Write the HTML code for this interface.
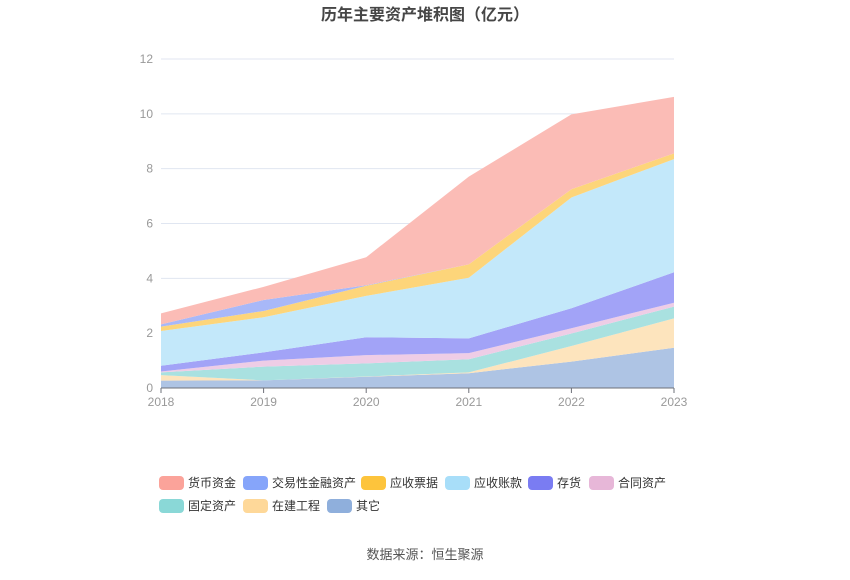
<!DOCTYPE html>
<html><head><meta charset="utf-8"><style>
body{margin:0;background:#fff;}
svg text{font-family:"Liberation Sans","Noto Sans CJK SC",sans-serif;}
</style></head><body>
<svg width="850" height="575">
<text x="425" y="20" text-anchor="middle" font-size="16" font-weight="bold" fill="#464646">历年主要资产堆积图（亿元）</text>
<g id="grid"></g><g id="areas"></g><g id="axes"></g><g id="legend"></g>
<text x="425" y="559" text-anchor="middle" font-size="13" fill="#555">数据来源：恒生聚源</text>
</svg>
<script>
const years=['2018','2019','2020','2021','2022','2023'];
const yTicks=[0,2,4,6,8,10,12];
const seriesNames=['其它','在建工程','固定资产','合同资产','存货','应收账款','应收票据','交易性金融资产','货币资金'];
const qita=[0.27,0.28,0.41,0.54,0.96,1.47];
const zaijian=[0.20,0,0.01,0.03,0.57,1.07];
const guding=[0.10,0.50,0.48,0.48,0.46,0.43];
const hetong=[0.03,0.22,0.30,0.22,0.19,0.14];
const cunhuo=[0.21,0.30,0.65,0.54,0.73,1.11];
const zhangkuan=[1.27,1.28,1.51,2.21,4.04,4.13];
const piaoju=[0.16,0.23,0.37,0.49,0.30,0.21];
const jiaoyi=[0.08,0.40,0.02,0,0,0];
const huobi=[0.40,0.48,1.02,3.20,2.73,2.06];
const seriesData=[qita,zaijian,guding,hetong,cunhuo,zhangkuan,piaoju,jiaoyi,huobi];
const fills=['#aec4e4','#fde4bd','#a9e1e0','#eecde6','#a2a3f7','#c3e8fa','#fdd57a','#a8b8f8','#fbbcb6'];
const legColors={'货币资金':'#fba39a','交易性金融资产':'#86a5fa','应收票据':'#fdc43c','应收账款':'#a8def9','存货':'#7a7cf2','合同资产':'#e7b7d8','固定资产':'#8ad8d7','在建工程':'#fed899','其它':'#8fafdc'};
const legOrder=['货币资金','交易性金融资产','应收票据','应收账款','存货','合同资产','固定资产','在建工程','其它'];
const NS='http://www.w3.org/2000/svg';
const x0=161,x1=674,y0=388,y12=59;
const xs=i=>x0+(x1-x0)*i/(years.length-1);
const ys=v=>y0-(y0-y12)*v/12;
function mk(t,a,p){const e=document.createElementNS(NS,t);for(const k in a)e.setAttribute(k,a[k]);p.appendChild(e);return e;}
const grid=document.getElementById('grid'),axes=document.getElementById('axes'),areas=document.getElementById('areas'),legend=document.getElementById('legend');
yTicks.forEach(v=>{
 if(v>0){const l=mk('line',{x1:x0,x2:x1,y1:ys(v),y2:ys(v),stroke:'#e0e6f1'},grid);
 
 }
 const t=mk('text',{x:x0-8,y:ys(v)+4,'text-anchor':'end','font-size':12,fill:'#999'},axes);t.textContent=v;
 
 
});
let base=years.map(()=>0);
seriesData.forEach((s,si)=>{
 const top=base.map((b,i)=>b+s[i]);
 let d='M'+years.map((_,i)=>xs(i)+','+ys(top[i])).join('L');
 for(let i=years.length-1;i>=0;i--)d+='L'+xs(i)+','+ys(base[i]);
 const p=mk('path',{d:d+'Z',fill:fills[si]},areas);
 
 
 base=top;
});
const ax=mk('line',{x1:x0,x2:x1,y1:y0,y2:y0,stroke:'#6e7079'},axes);


years.forEach((y,i)=>{
 mk('line',{x1:xs(i),x2:xs(i),y1:y0,y2:y0+5,stroke:'#6e7079'},axes);
 const t=mk('text',{x:xs(i),y:y0+18,'text-anchor':'middle','font-size':12,fill:'#999'},axes);t.textContent=y;
 
 
});
const lp=[[159,483],[243,483],[361,483],[445,483],[528,483],[589,483],[159,506],[243,506],[327,506]];
legOrder.forEach((n,i)=>{
 const g=mk('g',{},legend);
 
 
 mk('rect',{x:lp[i][0],y:lp[i][1]-7,width:25,height:14,rx:4,fill:legColors[n]},g);
 const t=mk('text',{x:lp[i][0]+29,y:lp[i][1]+4,'font-size':12,fill:'#333'},g);t.textContent=n;
});
</script>
</body></html>
